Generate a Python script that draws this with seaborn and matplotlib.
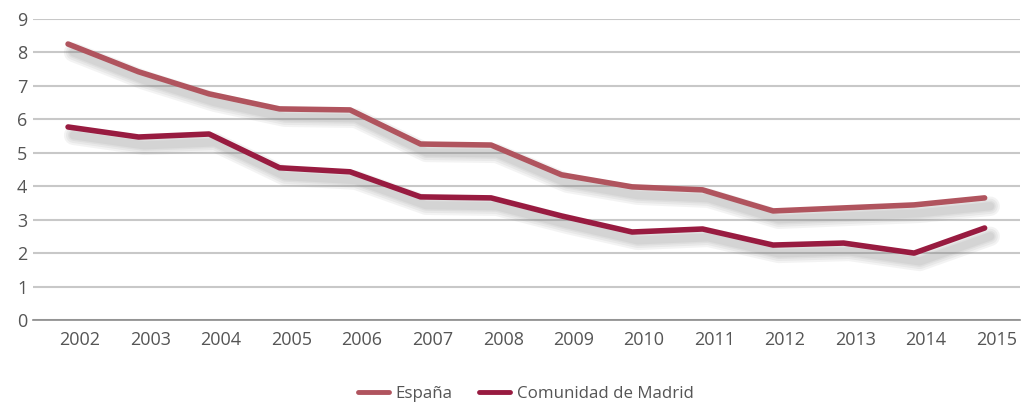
import numpy as np
import pandas as pd
import matplotlib
matplotlib.use("Agg")
import matplotlib.pyplot as plt
import matplotlib.patheffects as pe
import matplotlib.transforms as mtransforms
import seaborn as sns

# === Data ===
years = [2002, 2003, 2004, 2005, 2006, 2007, 2008, 2009, 2010, 2011, 2012, 2013, 2014, 2015]
espana = [8.25, 7.42, 6.76, 6.31, 6.28, 5.26, 5.23, 4.34, 3.98, 3.89, 3.26, 3.35, 3.44, 3.65]
madrid = [5.77, 5.47, 5.56, 4.55, 4.43, 3.68, 3.65, 3.11, 2.63, 2.72, 2.24, 2.30, 2.00, 2.75]
series_names = ["España", "Comunidad de Madrid"]
colors = ["#b0545e", "#981b40"]

df = pd.DataFrame({
    "year": years * 2,
    "value": espana + madrid,
    "serie": [series_names[0]] * len(years) + [series_names[1]] * len(years),
})

sns.set_style("white")
plt.rcParams["font.family"] = ["Open Sans", "DejaVu Sans"]

fig = plt.figure(figsize=(10.25, 4.03), dpi=100)
ax = fig.add_axes([0.032, 0.206, 0.963, 0.747])

sns.lineplot(data=df, x="year", y="value", hue="serie", palette=colors,
             linewidth=4, ax=ax, legend=False, zorder=3)

# soft blurred shadow under the lines (stacked translucent strokes)
for line in ax.get_lines():
    line.set_solid_capstyle("round")
    line.set_solid_joinstyle("round")
    effects = []
    for w in [14, 11, 8, 6]:
        effects.append(pe.SimpleLineShadow(offset=(4, -6), shadow_color="#7a7a7a",
                                           alpha=0.09, linewidth=w))
    effects.append(pe.Normal())
    line.set_path_effects(effects)

ax.set_xlim(years[0] - 0.5, years[-1] + 0.5)
ax.set_ylim(0, 9)
ax.set_yticks(range(0, 10))
ax.set_xticks(years)
ax.set_xticklabels([str(y) for y in years])
ax.yaxis.grid(True, color="#c8c8c8", linewidth=1.5, zorder=0)
ax.xaxis.grid(False)
for s in ["top", "right", "left"]:
    ax.spines[s].set_visible(False)
ax.spines["bottom"].set_color("#8a8a8a")
ax.spines["bottom"].set_linewidth(1.2)
ax.tick_params(axis="both", length=0, labelsize=13, labelcolor="#555555")
ax.tick_params(axis="x", pad=8)
ax.tick_params(axis="y", pad=4)
ax.set_xlabel("")
ax.set_ylabel("")

# year labels sit a bit to the right of the points
offset = mtransforms.ScaledTranslation(12 / 100, 0, fig.dpi_scale_trans)
for lbl in ax.get_xticklabels():
    lbl.set_transform(lbl.get_transform() + offset)

handles = [plt.Line2D([], [], color=c, linewidth=3.5) for c in colors]
fig.legend(handles, series_names, loc="lower center", ncol=2, frameon=False,
           bbox_to_anchor=(0.513, -0.035), fontsize=12.2, handlelength=1.8,
           handletextpad=0.4, columnspacing=1.6, labelcolor="#555555")

plt.savefig("out.png", dpi=100)
